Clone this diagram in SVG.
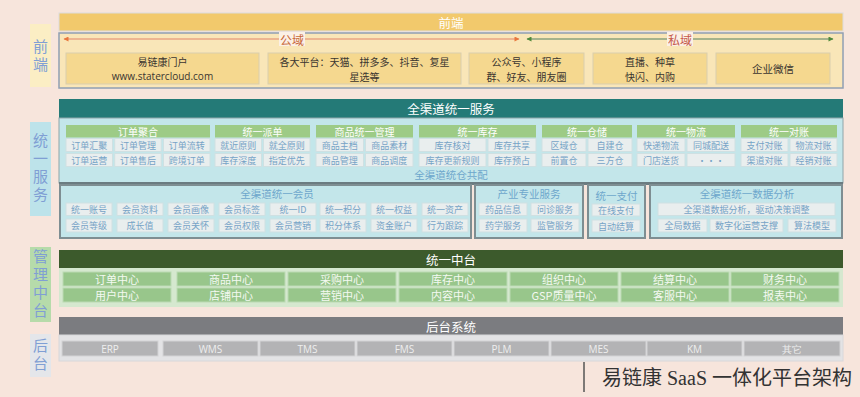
<svg xmlns="http://www.w3.org/2000/svg" width="860" height="397" viewBox="0 0 860 397">
<defs>
<style>
.t{font-family:"Noto Sans CJK SC","Liberation Sans",sans-serif;text-anchor:middle;dominant-baseline:central}
.side{fill:#809fd4;font-size:15px;font-family:"Noto Sans CJK SC",sans-serif;writing-mode:vertical-rl;text-orientation:upright;text-anchor:middle;letter-spacing:3px}
.hd{fill:#ffffff;font-size:12.5px}
.fb{fill:#f5d88f;stroke:#d9ceae;stroke-width:1}
.ft{fill:#3a3530;font-size:10.5px}
.ft2{fill:#3a3530;font-size:10px}
.gh{fill:#9dcb86}
.ght{fill:#ffffff;font-size:10px}
.it{fill:#e9eeee;stroke:#cfe0e2;stroke-width:1}
.itt{fill:#76a3c6;font-size:9px}
.pn{fill:#c3e6ea;stroke:#7e8e92;stroke-width:2}
.pt{fill:#6ea7cc;font-size:10.5px}
.mc{fill:#98c68b;stroke:#bcdab4;stroke-width:1}
.mct{fill:#f4f9f2;font-size:11px}
.bc{fill:#b3b3b5;stroke:#d3d3d5;stroke-width:1}
.bct{fill:#eeeeee;font-size:10px;font-family:"Open Sans","Liberation Sans",sans-serif}
</style>
<marker id="ao" viewBox="0 0 10 10" refX="9" refY="5" markerWidth="6" markerHeight="5" orient="auto-start-reverse" markerUnits="userSpaceOnUse"><path d="M0,0 L10,5 L0,10 z" fill="#e8763c"/></marker>
<marker id="ag" viewBox="0 0 10 10" refX="9" refY="5" markerWidth="6" markerHeight="5" orient="auto-start-reverse" markerUnits="userSpaceOnUse"><path d="M0,0 L10,5 L0,10 z" fill="#4f8a3a"/></marker>
</defs>
<rect x="0" y="0" width="860" height="397" fill="#f7e5dc"/>

<!-- side labels -->
<g id="side-front"><rect x="30" y="24" width="21" height="63" fill="#fbeec4"/><text class="side" x="40.5" y="56.5">前端</text></g>
<g id="side-service"><rect x="30" y="122" width="21" height="94" fill="#bde3ea"/><text class="side" x="40.5" y="169">统一服务</text></g>
<g id="side-mid"><rect x="30" y="247" width="21" height="75" fill="#b6dbaa"/><text class="side" x="40.5" y="285">管理中台</text></g>
<g id="side-back"><rect x="30" y="334" width="21" height="43" fill="#e4e6ea"/><text class="side" x="40.5" y="356">后台</text></g>

<!-- front -->
<g id="front">
<rect x="59" y="13" width="784" height="18" fill="#f2c96c" stroke="#dcdcdc" stroke-width="1"/>
<text class="t hd" x="451" y="22">前端</text>
<rect x="59" y="33" width="784" height="55" fill="#f9e6b8" stroke="#8f9fb3" stroke-width="1.5"/>
</g>
<g id="connectors">
<line x1="64" y1="39" x2="519" y2="39" stroke="#e9a585" stroke-width="1.5" marker-start="url(#ao)" marker-end="url(#ao)"/>
<line x1="527" y1="39" x2="833" y2="39" stroke="#8aa27e" stroke-width="1.5" marker-start="url(#ag)" marker-end="url(#ag)"/>
<rect x="279" y="32" width="26" height="14" fill="#fbf0e6"/>
<text class="t" x="292" y="39" fill="#c8683a" font-size="12px">公域</text>
<rect x="667" y="32" width="26" height="14" fill="#fbf0e6"/>
<text class="t" x="680" y="39" fill="#c65a4a" font-size="12px">私域</text>
</g>
<g id="front-portal"><rect class="fb" x="66" y="53" width="193" height="31"/><text class="t ft2" x="162.5" y="61">易链康门户<tspan x="162.5" dy="14.5" font-family="Open Sans,Liberation Sans,sans-serif">www.statercloud.com</tspan></text></g>
<g id="front-platforms"><rect class="fb" x="268" y="53" width="193" height="31"/><text class="t ft2" x="364.5" y="61">各大平台：天猫、拼多多、抖音、复星<tspan x="364.5" dy="14.5">星选等</tspan></text></g>
<g id="front-wechat"><rect class="fb" x="469" y="53" width="115" height="31"/><text class="t ft2" x="526.5" y="61">公众号、小程序<tspan x="526.5" dy="14.5">群、好友、朋友圈</tspan></text></g>
<g id="front-live"><rect class="fb" x="593" y="53" width="114" height="31"/><text class="t ft2" x="650" y="61">直播、种草<tspan x="650" dy="14.5">快闪、内购</tspan></text></g>
<g id="front-wework"><rect class="fb" x="716" y="53" width="114" height="31"/><text class="t ft" x="773" y="68.5">企业微信</text></g>

<!-- unified service -->
<g id="service">
<rect x="59" y="99" width="784" height="19" fill="#247a77"/>
<text class="t hd" x="451" y="108.5">全渠道统一服务</text>
<rect x="59" y="118" width="784" height="65" fill="#c3e6ea" stroke="#8ea6aa" stroke-width="1"/>
<rect x="59" y="182" width="784" height="3" fill="#6b7c81"/>
<text class="t pt" x="451" y="174.5" fill="#5fa3cc">全渠道统仓共配</text>
</g>
<g id="grp-order">
<rect class="gh" x="66" y="125" width="144" height="12.5"/><text class="t ght" x="138" y="131">订单聚合</text>
<rect class="it" x="66" y="138.5" width="46.5" height="13"/><text class="t itt" x="89.2" y="145.2">订单汇聚</text>
<rect class="it" x="114.7" y="138.5" width="46.5" height="13"/><text class="t itt" x="138" y="145.2">订单管理</text>
<rect class="it" x="163.5" y="138.5" width="46.5" height="13"/><text class="t itt" x="186.7" y="145.2">订单流转</text>
<rect class="it" x="66" y="153.5" width="46.5" height="13"/><text class="t itt" x="89.2" y="160.2">订单运营</text>
<rect class="it" x="114.7" y="153.5" width="46.5" height="13"/><text class="t itt" x="138" y="160.2">订单售后</text>
<rect class="it" x="163.5" y="153.5" width="46.5" height="13"/><text class="t itt" x="186.7" y="160.2">跨境订单</text>
</g>
<g id="grp-dispatch">
<rect class="gh" x="215" y="125" width="95" height="12.5"/><text class="t ght" x="262.5" y="131">统一派单</text>
<rect class="it" x="215" y="138.5" width="46.5" height="13"/><text class="t itt" x="238.2" y="145.2">就近原则</text>
<rect class="it" x="263.5" y="138.5" width="46.5" height="13"/><text class="t itt" x="286.7" y="145.2">就全原则</text>
<rect class="it" x="215" y="153.5" width="46.5" height="13"/><text class="t itt" x="238.2" y="160.2">库存深度</text>
<rect class="it" x="263.5" y="153.5" width="46.5" height="13"/><text class="t itt" x="286.7" y="160.2">指定优先</text>
</g>
<g id="grp-goods">
<rect class="gh" x="316" y="125" width="97" height="12.5"/><text class="t ght" x="364.5" y="131">商品统一管理</text>
<rect class="it" x="316" y="138.5" width="47.5" height="13"/><text class="t itt" x="339.7" y="145.2">商品主档</text>
<rect class="it" x="365.5" y="138.5" width="47.5" height="13"/><text class="t itt" x="389.2" y="145.2">商品素材</text>
<rect class="it" x="316" y="153.5" width="47.5" height="13"/><text class="t itt" x="339.7" y="160.2">商品管理</text>
<rect class="it" x="365.5" y="153.5" width="47.5" height="13"/><text class="t itt" x="389.2" y="160.2">商品调度</text>
</g>
<g id="grp-stock">
<rect class="gh" x="419" y="125" width="117" height="12.5"/><text class="t ght" x="477.5" y="131">统一库存</text>
<rect class="it" x="419" y="138.5" width="67" height="13"/><text class="t itt" x="452.5" y="145.2">库存核对</text>
<rect class="it" x="488" y="138.5" width="48" height="13"/><text class="t itt" x="512" y="145.2">库存共享</text>
<rect class="it" x="419" y="153.5" width="67" height="13"/><text class="t itt" x="452.5" y="160.2">库存更新规则</text>
<rect class="it" x="488" y="153.5" width="48" height="13"/><text class="t itt" x="512" y="160.2">库存预占</text>
</g>
<g id="grp-warehouse">
<rect class="gh" x="542" y="125" width="90" height="12.5"/><text class="t ght" x="587" y="131">统一仓储</text>
<rect class="it" x="542" y="138.5" width="44" height="13"/><text class="t itt" x="564" y="145.2">区域仓</text>
<rect class="it" x="588" y="138.5" width="44" height="13"/><text class="t itt" x="610" y="145.2">自建仓</text>
<rect class="it" x="542" y="153.5" width="44" height="13"/><text class="t itt" x="564" y="160.2">前置仓</text>
<rect class="it" x="588" y="153.5" width="44" height="13"/><text class="t itt" x="610" y="160.2">三方仓</text>
</g>
<g id="grp-logistics">
<rect class="gh" x="637" y="125" width="98" height="12.5"/><text class="t ght" x="686" y="131">统一物流</text>
<rect class="it" x="637" y="138.5" width="48" height="13"/><text class="t itt" x="661" y="145.2">快递物流</text>
<rect class="it" x="687" y="138.5" width="48" height="13"/><text class="t itt" x="711" y="145.2">同城配送</text>
<rect class="it" x="637" y="153.5" width="48" height="13"/><text class="t itt" x="661" y="160.2">门店送货</text>
<rect class="it" x="687" y="153.5" width="48" height="13"/><text class="t itt" x="711" y="160.2">···</text>
</g>
<g id="grp-recon">
<rect class="gh" x="741" y="125" width="96" height="12.5"/><text class="t ght" x="789" y="131">统一对账</text>
<rect class="it" x="741" y="138.5" width="47" height="13"/><text class="t itt" x="764.5" y="145.2">支付对账</text>
<rect class="it" x="790" y="138.5" width="47" height="13"/><text class="t itt" x="813.5" y="145.2">物流对账</text>
<rect class="it" x="741" y="153.5" width="47" height="13"/><text class="t itt" x="764.5" y="160.2">渠道对账</text>
<rect class="it" x="790" y="153.5" width="47" height="13"/><text class="t itt" x="813.5" y="160.2">经销对账</text>
</g>

<g id="member">
<rect class="pn" x="60" y="185" width="411" height="53"/>
<text class="t pt" x="277" y="193">全渠道统一会员</text>
<rect class="it" x="66" y="203" width="46" height="12.5"/><text class="t itt" x="89" y="209.3">统一账号</text>
<rect class="it" x="117" y="203" width="46" height="12.5"/><text class="t itt" x="140" y="209.3">会员资料</text>
<rect class="it" x="168" y="203" width="46" height="12.5"/><text class="t itt" x="191" y="209.3">会员画像</text>
<rect class="it" x="219" y="203" width="46" height="12.5"/><text class="t itt" x="242" y="209.3">会员标签</text>
<rect class="it" x="270" y="203" width="46" height="12.5"/><text class="t itt" x="293" y="209.3">统一ID</text>
<rect class="it" x="320" y="203" width="46" height="12.5"/><text class="t itt" x="343" y="209.3">统一积分</text>
<rect class="it" x="371" y="203" width="46" height="12.5"/><text class="t itt" x="394" y="209.3">统一权益</text>
<rect class="it" x="422" y="203" width="46" height="12.5"/><text class="t itt" x="445" y="209.3">统一资产</text>
<rect class="it" x="66" y="219" width="46" height="13"/><text class="t itt" x="89" y="225.5">会员等级</text>
<rect class="it" x="117" y="219" width="46" height="13"/><text class="t itt" x="140" y="225.5">成长值</text>
<rect class="it" x="168" y="219" width="46" height="13"/><text class="t itt" x="191" y="225.5">会员关怀</text>
<rect class="it" x="219" y="219" width="46" height="13"/><text class="t itt" x="242" y="225.5">会员权限</text>
<rect class="it" x="270" y="219" width="46" height="13"/><text class="t itt" x="293" y="225.5">会员营销</text>
<rect class="it" x="320" y="219" width="46" height="13"/><text class="t itt" x="343" y="225.5">积分体系</text>
<rect class="it" x="371" y="219" width="46" height="13"/><text class="t itt" x="394" y="225.5">资金账户</text>
<rect class="it" x="422" y="219" width="46" height="13"/><text class="t itt" x="445" y="225.5">行为跟踪</text>
</g>
<g id="industry">
<rect class="pn" x="475" y="185" width="108" height="53"/>
<text class="t pt" x="529" y="193">产业专业服务</text>
<rect class="it" x="479" y="203" width="48" height="12.5"/><text class="t itt" x="503" y="209.3">药品信息</text>
<rect class="it" x="531" y="203" width="48" height="12.5"/><text class="t itt" x="555" y="209.3">问诊服务</text>
<rect class="it" x="479" y="219" width="48" height="13"/><text class="t itt" x="503" y="225.5">药学服务</text>
<rect class="it" x="531" y="219" width="48" height="13"/><text class="t itt" x="555" y="225.5">监管服务</text>
</g>
<g id="pay">
<rect class="pn" x="588" y="185" width="57" height="53"/>
<text class="t pt" x="616.5" y="195">统一支付</text>
<rect class="it" x="592" y="204" width="48" height="12"/><text class="t itt" x="616" y="210">在线支付</text>
<rect class="it" x="592" y="220" width="48" height="12"/><text class="t itt" x="616" y="226">自动结算</text>
</g>
<g id="analytics">
<rect class="pn" x="650" y="185" width="192" height="53"/>
<text class="t pt" x="747" y="193">全渠道统一数据分析</text>
<rect class="it" x="658" y="203" width="177" height="12.5"/><text class="t itt" x="746.5" y="209.3" font-size="9px">全渠道数据分析，驱动决策调整</text>
<rect class="it" x="658" y="219" width="49" height="13"/><text class="t itt" x="682.5" y="225.5" font-size="8px">全局数据</text>
<rect class="it" x="710" y="219" width="73" height="13"/><text class="t itt" x="746.5" y="225.5" font-size="8px">数字化运营支撑</text>
<rect class="it" x="788" y="219" width="48" height="13"/><text class="t itt" x="812" y="225.5" font-size="8px">算法模型</text>
</g>

<!-- middle platform -->
<g id="middle">
<rect x="59" y="250" width="784" height="18" fill="#3c5a2c"/>
<text class="t hd" x="451" y="259">统一中台</text>
<rect x="59" y="268" width="784" height="39" fill="#d5e8cf"/>
</g>
<g id="mid-c1"><rect class="mc" x="63" y="272" width="108" height="14"/><text class="t mct" x="117" y="279">订单中心</text><rect class="mc" x="63" y="288" width="108" height="14"/><text class="t mct" x="117" y="295">用户中心</text></g>
<g id="mid-c2"><rect class="mc" x="177" y="272" width="108" height="14"/><text class="t mct" x="231" y="279">商品中心</text><rect class="mc" x="177" y="288" width="108" height="14"/><text class="t mct" x="231" y="295">店铺中心</text></g>
<g id="mid-c3"><rect class="mc" x="288" y="272" width="108" height="14"/><text class="t mct" x="342" y="279">采购中心</text><rect class="mc" x="288" y="288" width="108" height="14"/><text class="t mct" x="342" y="295">营销中心</text></g>
<g id="mid-c4"><rect class="mc" x="399" y="272" width="108" height="14"/><text class="t mct" x="453" y="279">库存中心</text><rect class="mc" x="399" y="288" width="108" height="14"/><text class="t mct" x="453" y="295">内容中心</text></g>
<g id="mid-c5"><rect class="mc" x="510" y="272" width="108" height="14"/><text class="t mct" x="564" y="279">组织中心</text><rect class="mc" x="510" y="288" width="108" height="14"/><text class="t mct" x="564" y="295">GSP质量中心</text></g>
<g id="mid-c6"><rect class="mc" x="621" y="272" width="108" height="14"/><text class="t mct" x="675" y="279">结算中心</text><rect class="mc" x="621" y="288" width="108" height="14"/><text class="t mct" x="675" y="295">客服中心</text></g>
<g id="mid-c7"><rect class="mc" x="731" y="272" width="108" height="14"/><text class="t mct" x="785" y="279">财务中心</text><rect class="mc" x="731" y="288" width="108" height="14"/><text class="t mct" x="785" y="295">报表中心</text></g>

<!-- backend -->
<g id="backend">
<rect x="59" y="317" width="784" height="18" fill="#7b7c80"/>
<text class="t hd" x="451" y="326">后台系统</text>
<rect x="59" y="335" width="784" height="26" fill="#e3e3e5" stroke="#d8d8da" stroke-width="1"/>
</g>
<g id="b-erp"><rect class="bc" x="62" y="341" width="96" height="15"/><text class="t bct" x="110" y="348.5">ERP</text></g>
<g id="b-wms"><rect class="bc" x="163" y="341" width="95" height="15"/><text class="t bct" x="210.5" y="348.5">WMS</text></g>
<g id="b-tms"><rect class="bc" x="260" y="341" width="95" height="15"/><text class="t bct" x="307.5" y="348.5">TMS</text></g>
<g id="b-fms"><rect class="bc" x="357" y="341" width="95" height="15"/><text class="t bct" x="404.5" y="348.5">FMS</text></g>
<g id="b-plm"><rect class="bc" x="454" y="341" width="95" height="15"/><text class="t bct" x="501.5" y="348.5">PLM</text></g>
<g id="b-mes"><rect class="bc" x="551" y="341" width="95" height="15"/><text class="t bct" x="598.5" y="348.5">MES</text></g>
<g id="b-km"><rect class="bc" x="647" y="341" width="95" height="15"/><text class="t bct" x="694.5" y="348.5">KM</text></g>
<g id="b-other"><rect class="bc" x="744" y="341" width="96" height="15"/><text class="t bct" x="792" y="348.5" font-family="Noto Sans CJK SC,sans-serif">其它</text></g>

<!-- caption -->
<g id="caption">
<line x1="584" y1="362" x2="584" y2="392" stroke="#555555" stroke-width="1.5"/>
<text x="602" y="385" font-family="Liberation Serif,Noto Sans CJK SC,serif" font-size="20px" fill="#333333">易链康 SaaS 一体化平台架构</text>
</g>
</svg>
